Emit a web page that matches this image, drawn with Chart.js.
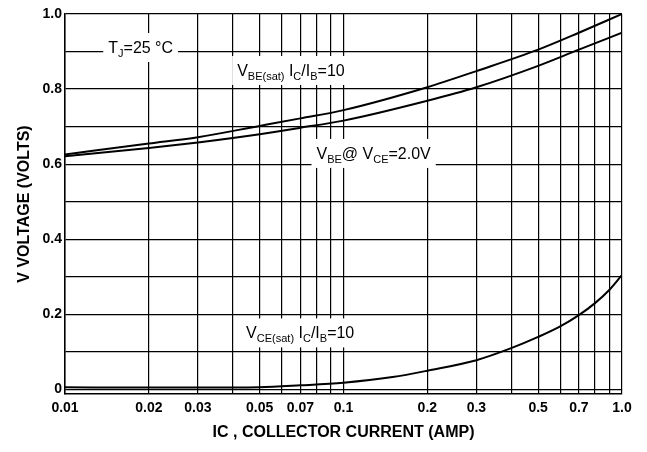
<!DOCTYPE html>
<html>
<head>
<meta charset="utf-8">
<script src="https://cdn.jsdelivr.net/npm/chart.js@4.4.1/dist/chart.umd.min.js"></script>
<style>
  html, body { margin: 0; padding: 0; background: #fff; }
</style>
</head>
<body>
<canvas id="grafikVbe" width="647" height="452"></canvas>
<script>
// data
const currentVals = [0.01, 0.02, 0.03, 0.05, 0.07, 0.1, 0.2, 0.3, 0.5, 0.7, 1.0];
const vbeSat      = [0.626, 0.655, 0.672, 0.702, 0.722, 0.744, 0.805, 0.848, 0.905, 0.950, 1.0];
const vbeOn       = [0.621, 0.643, 0.658, 0.680, 0.697, 0.716, 0.769, 0.805, 0.862, 0.905, 0.950];
const vceCurrent  = [0.01, 0.02, 0.03, 0.05, 0.07, 0.1, 0.15, 0.2, 0.3, 0.4, 0.5, 0.6, 0.7, 0.8, 0.9, 1.0];
const vceSat      = [0.006, 0.005, 0.005, 0.006, 0.011, 0.018, 0.033, 0.050, 0.078, 0.110, 0.140, 0.168, 0.198, 0.230, 0.265, 0.305];

const xGrid = [0.01, 0.02, 0.03, 0.04, 0.05, 0.06, 0.07, 0.08, 0.09,
               0.1, 0.2, 0.3, 0.4, 0.5, 0.6, 0.7, 0.8, 0.9, 1.0];
const xTickLabels = ['0.01', '0.02', '0.03', '0.05', '0.07', '0.1', '0.2', '0.3', '0.5', '0.7', '1.0'];
const yGrid = [0, 0.1, 0.2, 0.3, 0.4, 0.5, 0.6, 0.7, 0.8, 0.9, 1.0];
const yTickLabels = ['0', '0.2', '0.4', '0.6', '0.8', '1.0'];

// curve labels: [text, 1 = subscript]
const notes = [
    { x: 0.0143, y: 0.912, parts: [['T', 0], ['J', 1], ['=25 °C', 0]] },
    { x: 0.0415, y: 0.851, parts: [['V', 0], ['BE(sat)', 1], [' I', 0], ['C', 1], ['/I', 0], ['B', 1], ['=10', 0]] },
    { x: 0.080,  y: 0.630, parts: [['V', 0], ['BE', 1], ['@ V', 0], ['CE', 1], ['=2.0V', 0]] },
    { x: 0.0447, y: 0.152, parts: [['V', 0], ['CE(sat)', 1], [' I', 0], ['C', 1], ['/I', 0], ['B', 1], ['=10', 0]] }
];

const FONT = '"Liberation Sans", Arial, sans-serif';

const findLabel = (list, v) => {
    const hit = list.find(l => Math.abs(parseFloat(l) - v) < 1e-6);
    return hit === undefined ? '' : hit;
};

const notePlugin = {
    id: 'notes',
    beforeDatasetsDraw(chart) {
        const ctx = chart.ctx;
        const xs = chart.scales.x, ys = chart.scales.y;
        ctx.save();
        notes.forEach(n => {
            const x0 = xs.getPixelForValue(n.x);
            const yc = ys.getPixelForValue(n.y);
            let w = 0;
            n.parts.forEach(p => {
                ctx.font = (p[1] ? '11px ' : '16px ') + FONT;
                w += ctx.measureText(p[0]).width;
            });
            ctx.fillStyle = '#fff';
            ctx.fillRect(x0 - 5, yc - 14, w + 10, 29);
            ctx.fillStyle = '#000';
            ctx.textBaseline = 'alphabetic';
            let cx = x0;
            n.parts.forEach(p => {
                ctx.font = (p[1] ? '11px ' : '16px ') + FONT;
                ctx.fillText(p[0], cx, yc + (p[1] ? 10 : 6));
                cx += ctx.measureText(p[0]).width;
            });
        });
        ctx.restore();
    }
};

const lineStyle = {
    borderColor: '#000',
    borderWidth: 2,
    pointRadius: 0,
    fill: false,
    cubicInterpolationMode: 'monotone'
};

new Chart(document.getElementById('grafikVbe'), {
    type: 'line',
    data: {
        datasets: [
            { label: 'VBE(sat)', data: currentVals.map((c, i) => ({ x: c, y: vbeSat[i] })), ...lineStyle },
            { label: 'VBE', data: currentVals.map((c, i) => ({ x: c, y: vbeOn[i] })), ...lineStyle },
            { label: 'VCE(sat)', data: vceCurrent.map((c, i) => ({ x: c, y: vceSat[i] })), ...lineStyle }
        ]
    },
    options: {
        responsive: false,
        animation: false,
        layout: { padding: { left: 0, right: 25, top: 14, bottom: 0 } },
        plugins: { legend: { display: false }, tooltip: { enabled: false } },
        scales: {
            x: {
                type: 'logarithmic',
                min: 0.01,
                max: 1,
                afterBuildTicks: s => { s.ticks = xGrid.map(v => ({ value: v })); },
                afterFit: s => { s.height = 58; },
                grid: { color: '#000', lineWidth: 1.2, drawTicks: false },
                border: { color: '#000', width: 1.5 },
                ticks: {
                    autoSkip: false,
                    maxRotation: 0,
                    padding: 6,
                    color: '#000',
                    font: { family: FONT, size: 14, weight: 'bold' },
                    callback: v => findLabel(xTickLabels, v)
                },
                title: {
                    display: true,
                    text: 'IC , COLLECTOR CURRENT (AMP)',
                    color: '#000',
                    font: { family: FONT, size: 16, weight: 'bold' },
                    padding: { top: 0, bottom: 10 }
                }
            },
            y: {
                min: -0.012,
                max: 1.0,
                afterBuildTicks: s => { s.ticks = yGrid.map(v => ({ value: v })); },
                afterFit: s => { s.width = 65; },
                grid: { color: '#000', lineWidth: 1.2, drawTicks: false },
                border: { color: '#000', width: 1.5 },
                ticks: {
                    autoSkip: false,
                    padding: 3,
                    color: '#000',
                    font: { family: FONT, size: 14, weight: 'bold' },
                    callback: v => findLabel(yTickLabels, v)
                },
                title: {
                    display: true,
                    text: 'V VOLTAGE (VOLTS)',
                    color: '#000',
                    font: { family: FONT, size: 16, weight: 'bold' },
                    padding: { top: 15, bottom: 0 }
                }
            }
        }
    },
    plugins: [notePlugin]
});
</script>
</body>
</html>
